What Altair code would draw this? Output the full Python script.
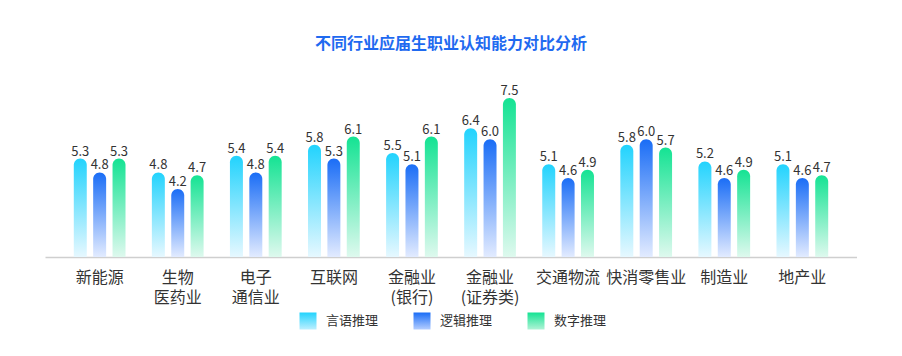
import altair as alt
import pandas as pd

FONT = "Noto Sans CJK SC"

categories = ["新能源", "生物\n医药业", "电子\n通信业", "互联网", "金融业\n(银行)",
              "金融业\n(证券类)", "交通物流", "快消零售业", "制造业", "地产业"]
series = ["言语推理", "逻辑推理", "数字推理"]
verbal = [5.3, 4.8, 5.4, 5.8, 5.5, 6.4, 5.1, 5.8, 5.2, 5.1]
logic = [4.8, 4.2, 4.8, 5.3, 5.1, 6.0, 4.6, 6.0, 4.6, 4.6]
numeric = [5.3, 4.7, 5.4, 6.1, 6.1, 7.5, 4.9, 5.7, 4.9, 4.7]
top_colors = ["#22D3FD", "#1A6DF6", "#14E393"]
bottom_colors = ["#E6F8FF", "#E2EBFF", "#DEF9EE"]
Y_MIN, Y_MAX = 1.73, 7.5

rows = []
for i, c in enumerate(categories):
    for s, vals in zip(series, [verbal, logic, numeric]):
        rows.append({"cat": c, "series": s, "value": vals[i]})
df = pd.DataFrame(rows)


def grad(tc, bc):
    return alt.Gradient(
        gradient="linear",
        stops=[alt.GradientStop(color=tc, offset=0), alt.GradientStop(color=bc, offset=1)],
        x1=0, x2=0, y1=0, y2=1,
    )


x = alt.X(
    "cat:N", sort=categories,
    scale=alt.Scale(domain=categories, paddingInner=0, paddingOuter=0.2),
    axis=alt.Axis(title=None, labelExpr="split(datum.label, '\\n')", labelAngle=0,
                  ticks=False, domainColor="#CFCFCF", domainWidth=1.5,
                  labelFontSize=16, labelColor="#333333", labelFont=FONT,
                  labelPadding=12, labelLineHeight=20),
)
xo = alt.XOffset("series:N", sort=series,
                 scale=alt.Scale(domain=series, paddingInner=0.33, paddingOuter=0.68))
y = alt.Y("value:Q", scale=alt.Scale(domain=[Y_MIN, Y_MAX], nice=False, zero=False), axis=None)
y2 = alt.Y2(datum=Y_MIN)

layers = []
for s, tc, bc in zip(series, top_colors, bottom_colors):
    layers.append(
        alt.Chart(df).transform_filter(alt.datum.series == s).mark_bar(
            color=grad(tc, bc), cornerRadiusTopLeft=6.5, cornerRadiusTopRight=6.5
        ).encode(x=x, xOffset=xo, y=y, y2=y2)
    )

labels = alt.Chart(df).mark_text(
    baseline="bottom", dy=0, fontSize=13, color="#333333", font=FONT
).encode(x=x, xOffset=xo, y=y, text=alt.Text("value:Q", format=".1f"))

main = alt.layer(*layers, labels).properties(
    width=812, height=159,
    title=alt.Title("不同行业应届生职业认知能力对比分析", fontSize=16, fontWeight="bold",
                    color="#1F6AF0", font=FONT, anchor="middle", offset=33),
)

leg_df = pd.DataFrame({"series": series})
lx = alt.X("series:N", sort=series,
           scale=alt.Scale(domain=series, paddingInner=0, paddingOuter=0), axis=None)
leg_layers = []
for s, tc, bc in zip(series, top_colors, ["#BDEFFF", "#B5CEFF", "#B0F3D6"]):
    leg_layers.append(
        alt.Chart(leg_df).transform_filter(alt.datum.series == s).mark_square(
            size=289, opacity=1, color=grad(tc, bc), xOffset=-29
        ).encode(x=lx)
    )
leg_text = alt.Chart(leg_df).mark_text(
    align="left", dx=-11, fontSize=13, color="#333333", font=FONT
).encode(x=lx, text="series:N")
legend = alt.layer(*leg_layers, leg_text).properties(width=342, height=20)

chart = alt.vconcat(main, legend, spacing=6, center=True).properties(
    padding={"left": 37, "top": 28, "right": 0, "bottom": 0}
).configure_view(stroke=None)

chart.save("out.html", embed_options={"renderer": "svg", "actions": False})
